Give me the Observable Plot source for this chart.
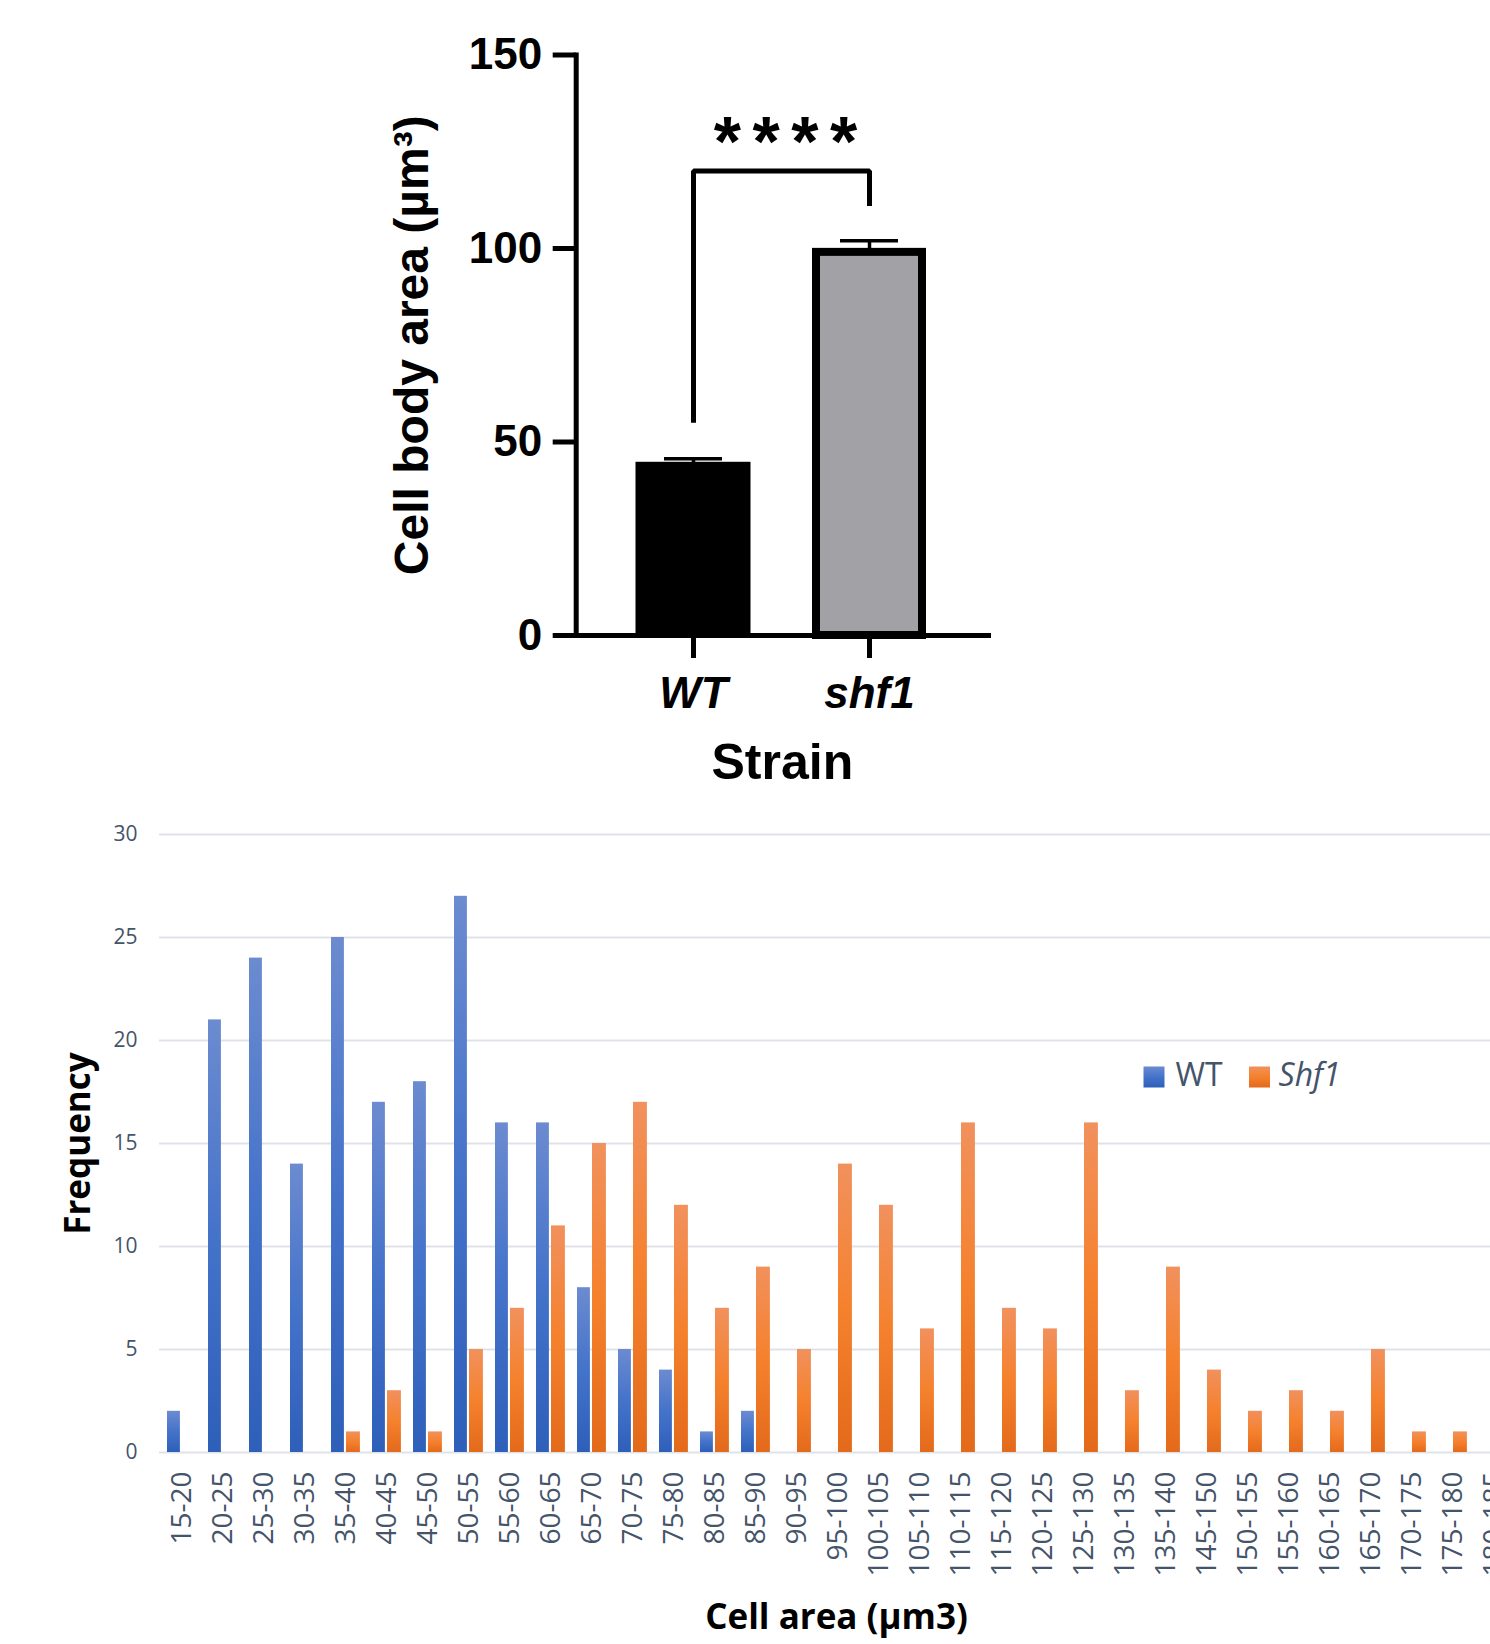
<!DOCTYPE html>
<html>
<head>
<meta charset="utf-8">
<script src="https://cdn.jsdelivr.net/npm/d3@7"></script>
<script src="https://cdn.jsdelivr.net/npm/@observablehq/plot@0.6"></script>
<style>
  html, body { margin: 0; padding: 0; background: #fff; overflow: hidden; }
  #top, #bottom { width: 1490px; }
  svg { display: block; }
</style>
</head>
<body>
<div id="top"></div>
<div id="bottom"></div>
<script>
// ---------- Top chart (mean cell body area) ----------
const strains = ["WT", "shf1"];
const meanArea = [44.5, 99];
const semArea = [1.2, 3];
const yTicksTop = [0, 50, 100, 150];
const bracketStrain = ["WT", "WT", "shf1", "shf1"];
const bracketValue = [55, 120, 120, 111];
const sigLabel = "****";
const sigLabelValue = 121.4;
const topYTitle = "Cell body area (µm³)";
const topXTitle = "Strain";

// ---------- Bottom chart (histogram) ----------
const bins = ["15-20","20-25","25-30","30-35","35-40","40-45","45-50","50-55","55-60","60-65",
  "65-70","70-75","75-80","80-85","85-90","90-95","95-100","100-105","105-110","110-115",
  "115-120","120-125","125-130","130-135","135-140","145-150","150-155","155-160","160-165",
  "165-170","170-175","175-180","180-185"];
const wtFreq = [2,21,24,14,25,17,18,27,16,16,8,5,4,1,2,0,0,0,0,0,0,0,0,0,0,0,0,0,0,0,0,0,0];
const shf1Freq = [0,0,0,0,1,3,1,5,7,11,15,17,12,7,9,5,14,12,6,16,7,6,16,3,9,4,2,3,2,5,1,1,0];
const yTicksBottom = [0, 5, 10, 15, 20, 25, 30];
const seriesNames = ["WT", "Shf1"];
const bottomYTitle = "Frequency";
const bottomXTitle = "Cell area (µm3)";

// ===== Top chart =====
const topRows = strains.map((s, i) => ({strain: s, mean: meanArea[i], top: meanArea[i] + semArea[i]}));
const bracket = bracketStrain.map((s, i) => ({strain: s, v: bracketValue[i]}));

const topPlot = Plot.plot({
  width: 1490, height: 790,
  marginTop: 54.5, marginBottom: 155, marginLeft: 575.7, marginRight: 502,
  style: {fontFamily: "'Liberation Sans', Arial, sans-serif", background: "#fff", color: "#000", overflow: "hidden"},
  x: {type: "band", domain: strains, range: [605, 957], padding: 0, axis: null},
  y: {domain: [0, 150], axis: null},
  marks: [
    Plot.barY(topRows.filter(d => d.strain === strains[0]), {x: "strain", y: "mean", fill: "#000", stroke: "#000", strokeWidth: 2, insetLeft: 31.5, insetRight: 31.5}),
    Plot.barY(topRows.filter(d => d.strain === strains[1]), {x: "strain", y: "mean", fill: "#a2a1a6", stroke: "#000", strokeWidth: 8, insetLeft: 35, insetRight: 35}),
    Plot.ruleX(topRows, {x: "strain", y1: "mean", y2: "top", strokeWidth: 3.5}),
    Plot.tickY(topRows, {x: "strain", y: "top", strokeWidth: 3.5, inset: 59}),
    Plot.line(bracket, {x: "strain", y: "v", strokeWidth: 5, strokeLinejoin: "miter", strokeLinecap: "butt"}),
    Plot.text([{label: sigLabel, v: sigLabelValue}], {text: "label", y: "v", fontSize: 70, fontWeight: "bold", lineAnchor: "bottom"}),
    Plot.frame({anchor: "left", strokeWidth: 5}),
    Plot.frame({anchor: "bottom", strokeWidth: 5}),
    Plot.axisY(yTicksTop, {anchor: "left", tickSize: 23, tickPadding: 11, strokeWidth: 5, fontSize: 44, fontWeight: "bold", label: null}),
    Plot.axisX({tickSize: 23, tickPadding: 18, strokeWidth: 5, fontSize: 44, fontWeight: "bold", fontStyle: "italic", label: null}),
    Plot.text([topYTitle], {frameAnchor: "left", textAnchor: "middle", rotate: -90, dx: -164, fontSize: 48, fontWeight: "bold"}),
    Plot.text([topXTitle], {frameAnchor: "bottom", dy: 143, lineAnchor: "bottom", fontSize: 50, fontWeight: "bold"})
  ]
});
document.getElementById("top").appendChild(topPlot);
d3.select(topPlot).selectAll("text").filter(function() { return this.textContent === sigLabel; })
  .style("letter-spacing", "11.5px").attr("dx", "9");

// ===== Bottom chart =====
const binRows = bins.map((b, i) => ({bin: b, wt: wtFreq[i], shf1: shf1Freq[i]}));
const step = 41.1;

const bottomPlot = Plot.plot({
  width: 1490, height: 854,
  marginTop: 44, marginBottom: 192, marginLeft: 159, marginRight: 0,
  style: {fontFamily: "'Open Sans', 'Noto Sans', sans-serif", background: "#fff", color: "#44546a", overflow: "hidden"},
  x: {type: "band", domain: bins, range: [159, 159 + bins.length * step], padding: 0, axis: null},
  y: {domain: [0, 30], axis: null},
  marks: [
    Plot.gridY(yTicksBottom, {stroke: "#dfe3e9", strokeOpacity: 1, strokeWidth: 2}),
    Plot.barY(binRows, {x: "bin", y: "wt", fill: "url(#gradWT)", insetLeft: 6, insetRight: step - 19}),
    Plot.barY(binRows, {x: "bin", y: "shf1", fill: "url(#gradShf1)", insetLeft: 21, insetRight: step - 35}),
    Plot.axisY(yTicksBottom, {tickSize: 0, tickPadding: 22, fontSize: 21, fill: "#44546a", label: null}),
    Plot.axisX({tickRotate: -90, tickSize: 0, tickPadding: 19, fontSize: 28, fill: "#44546a", label: null}),
    Plot.text([bottomYTitle], {frameAnchor: "left", textAnchor: "middle", rotate: -90, dx: -81, fontSize: 35, fontWeight: "bold", fill: "#000"}),
    Plot.text([bottomXTitle], {frameAnchor: "bottom", dy: 176, dx: 11.5, lineAnchor: "bottom", fontSize: 35, fontWeight: "bold", fill: "#000"}),
    Plot.dot([seriesNames[0]], {frameAnchor: "top-left", dx: 994.5, dy: 242.5, symbol: "square", r: 11.85, fill: "url(#gradWT)", stroke: "none"}),
    Plot.text([seriesNames[0]], {frameAnchor: "top-left", dx: 1016, dy: 251.7, textAnchor: "start", lineAnchor: "bottom", fontSize: 32, fill: "#44546a"}),
    Plot.dot([seriesNames[1]], {frameAnchor: "top-left", dx: 1100, dy: 242.5, symbol: "square", r: 11.85, fill: "url(#gradShf1)", stroke: "none"}),
    Plot.text([seriesNames[1]], {frameAnchor: "top-left", dx: 1119, dy: 251.7, textAnchor: "start", lineAnchor: "bottom", fontSize: 32, fontStyle: "italic", fill: "#44546a"})
  ]
});
document.getElementById("bottom").appendChild(bottomPlot);

const defs = d3.select(bottomPlot).insert("defs", ":first-child");
function grad(id, stops) {
  const g = defs.append("linearGradient").attr("id", id).attr("x1", 0).attr("y1", 0).attr("x2", 0).attr("y2", 1);
  stops.forEach(([o, c]) => g.append("stop").attr("offset", o).attr("stop-color", c));
}
grad("gradWT", [[0, "#6c8bd0"], [0.5, "#4473ca"], [1, "#2e5fb9"]]);
grad("gradShf1", [[0, "#f1915d"], [0.5, "#f5812d"], [1, "#e36a1b"]]);
</script>
</body>
</html>
